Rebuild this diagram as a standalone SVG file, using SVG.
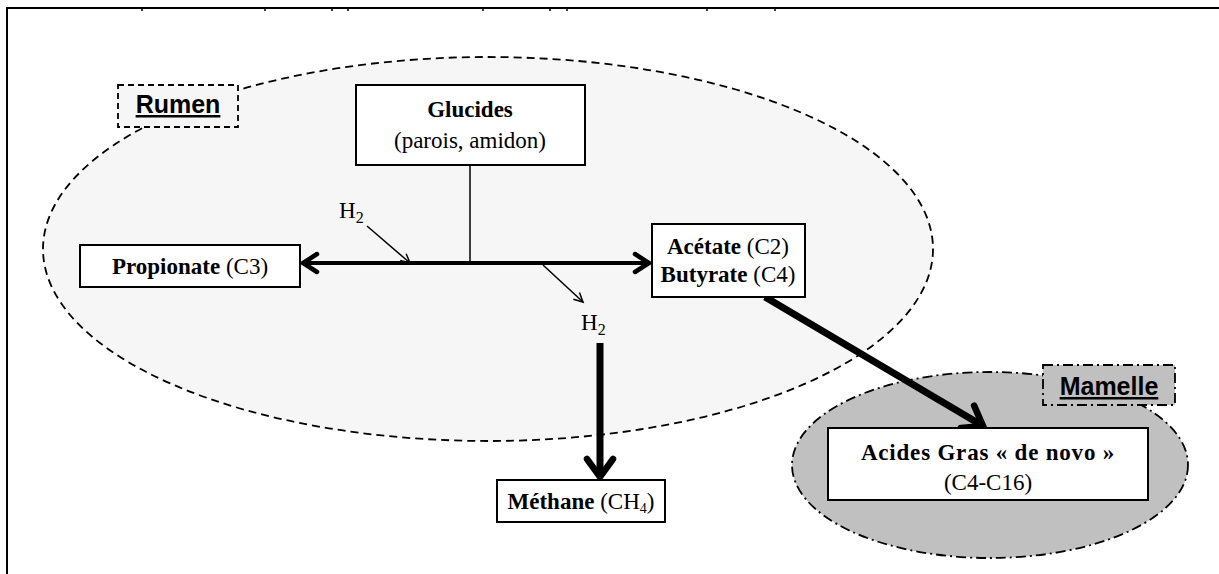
<svg xmlns="http://www.w3.org/2000/svg" width="1219" height="574" viewBox="0 0 1219 574">
<style>
.box{fill:#fff;stroke:#000;stroke-width:2}
.t{font-family:"Liberation Serif","Times New Roman",serif;font-size:23px;fill:#000}
.b{font-weight:bold}
.lab{font-family:"Liberation Sans",Arial,sans-serif;font-size:25px;font-weight:bold;text-decoration:underline;fill:#000}
.frame{stroke:#000;stroke-width:2;fill:none}
</style>
<defs>
<marker id="chev" markerUnits="userSpaceOnUse" markerWidth="30" markerHeight="30" refX="17" refY="12" orient="auto-start-reverse" overflow="visible">
<path d="M3,3 L17,12 L3,21" fill="none" stroke="#000" stroke-width="4.5" stroke-linecap="round" stroke-linejoin="miter"/>
</marker>
<marker id="chevBig" markerUnits="userSpaceOnUse" markerWidth="40" markerHeight="40" refX="22" refY="16" orient="auto" overflow="visible">
<path d="M4,3 L22,16 L4,29" fill="none" stroke="#000" stroke-width="6.5" stroke-linecap="round"/>
</marker>
<marker id="thin" markerUnits="userSpaceOnUse" markerWidth="14" markerHeight="14" refX="10" refY="5" orient="auto" overflow="visible">
<path d="M1,0.5 L10,5 L1,9.5" fill="none" stroke="#000" stroke-width="1.5"/>
</marker>
</defs>
<rect width="1219" height="574" fill="#fff"/>
<g id="frame">
<path class="frame" d="M7,574 V8 H1219"/>
<path stroke="#000" stroke-width="1.5" d="M142,8 v3 M265,8 v3 M332,8 v3 M348,8 v3 M483,8 v3 M550,8 v3 M567,8 v3 M707,8 v3 M775,8 v3"/>
</g>
<g id="rumen">
<ellipse cx="488" cy="249" rx="445" ry="192" fill="#f6f6f6" stroke="#000" stroke-width="1.8" stroke-dasharray="8,5"/>
<rect x="118" y="85" width="120" height="42" fill="#f6f6f6" stroke="#000" stroke-width="1.8" stroke-dasharray="6,4"/>
<text class="lab" x="178" y="113" text-anchor="middle">Rumen</text>
</g>
<g id="mamelle">
<ellipse cx="990" cy="465" rx="198" ry="93" fill="#c0c0c0" stroke="#000" stroke-width="1.8" stroke-dasharray="10,4,2,4"/>
<rect x="1043" y="365" width="132" height="40" fill="#c0c0c0" stroke="#000" stroke-width="1.8" stroke-dasharray="10,4,2,4"/>
<text class="lab" x="1109" y="395" text-anchor="middle">Mamelle</text>
</g>
<g id="connectors">
<line x1="470" y1="165" x2="470" y2="263" stroke="#000" stroke-width="1.5"/>
<line x1="303" y1="263" x2="649" y2="263" stroke="#000" stroke-width="4" marker-start="url(#chev)" marker-end="url(#chev)"/>
<line x1="367" y1="226" x2="410" y2="263" stroke="#000" stroke-width="1.5" marker-end="url(#thin)"/>
<line x1="543" y1="265" x2="583" y2="302" stroke="#000" stroke-width="1.5" marker-end="url(#thin)"/>
<line x1="600" y1="343" x2="600" y2="477" stroke="#000" stroke-width="7" marker-end="url(#chevBig)"/>
<line x1="765" y1="297" x2="983" y2="426" stroke="#000" stroke-width="7" marker-end="url(#chevBig)"/>
</g>
<g id="h2-top">
<text class="t" x="339" y="218" font-size="24">H<tspan font-size="16" dy="5">2</tspan></text>
</g>
<g id="h2-bottom">
<text class="t" x="581" y="330" font-size="24">H<tspan font-size="16" dy="5">2</tspan></text>
</g>
<g id="glucides">
<rect class="box" x="356" y="85" width="229" height="80"/>
<text class="t b" x="470" y="117" text-anchor="middle">Glucides</text>
<text class="t" x="470" y="148" text-anchor="middle">(parois, amidon)</text>
</g>
<g id="propionate">
<rect class="box" x="80" y="245" width="220" height="42"/>
<text class="t" x="190" y="274" text-anchor="middle"><tspan class="b">Propionate</tspan> (C3)</text>
</g>
<g id="acetate">
<rect class="box" x="652" y="224" width="153" height="73"/>
<text class="t" x="728" y="254" text-anchor="middle"><tspan class="b">Acétate</tspan> (C2)</text>
<text class="t" x="728" y="282" text-anchor="middle"><tspan class="b">Butyrate</tspan> (C4)</text>
</g>
<g id="methane">
<rect class="box" x="497" y="480" width="168" height="42"/>
<text class="t" x="581" y="509" text-anchor="middle"><tspan class="b">Méthane</tspan> (CH<tspan font-size="14" dy="4">4</tspan><tspan dy="-4">)</tspan></text>
</g>
<g id="acides-gras">
<rect class="box" x="828" y="428" width="320" height="72"/>
<text class="t b" x="988" y="460" text-anchor="middle" letter-spacing="0.8">Acides Gras « de novo »</text>
<text class="t" x="988" y="490" text-anchor="middle">(C4-C16)</text>
</g>
</svg>
